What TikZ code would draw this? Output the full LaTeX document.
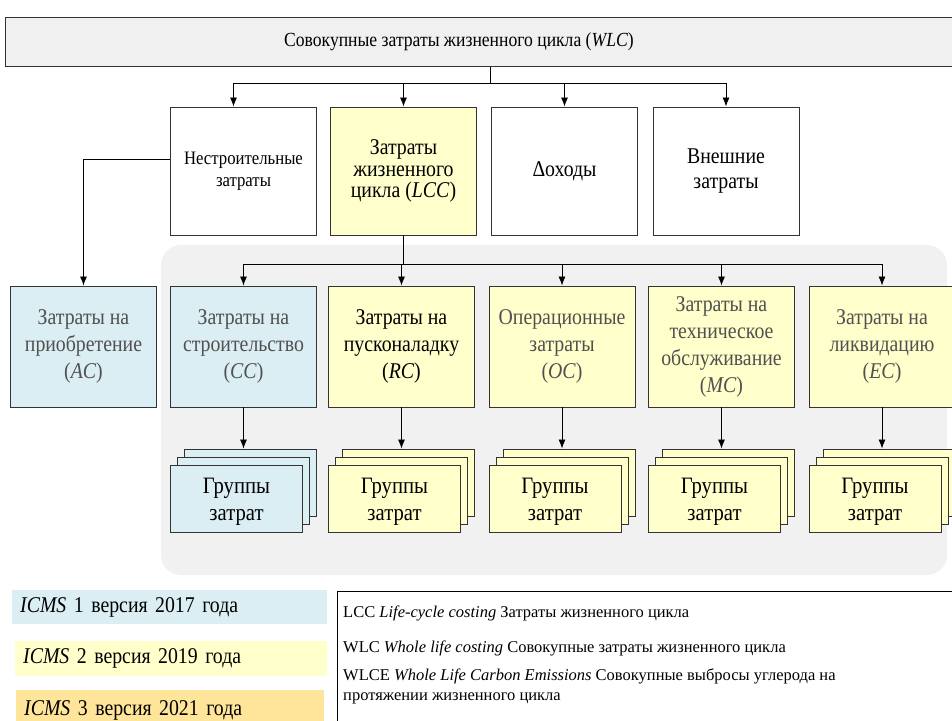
\documentclass[tikz,border=0pt]{standalone}
\usepackage{fontspec}
\setmainfont[FakeStretch=0.88]{Liberation Serif}
\newfontfamily\abbrfont{Liberation Serif}
\usetikzlibrary{arrows.meta}
\definecolor{wlcgray}{HTML}{F0F0F0}
\definecolor{panelgray}{HTML}{F1F1F1}
\definecolor{icmsone}{HTML}{DAEEF3}
\definecolor{icmstwo}{HTML}{FFFFCC}
\definecolor{icmsthree}{HTML}{FFE599}
\definecolor{txtgray}{HTML}{505050}
\definecolor{edge}{HTML}{333333}
\tikzset{
	costbox/.style={draw=edge, line width=0.9pt, minimum width=146pt, minimum height=121pt,
		align=center, inner sep=2pt, font=\fontsize{22.5}{27}\selectfont},
	groupcard/.style={draw=edge, line width=0.9pt, minimum width=132pt, minimum height=67pt},
	link/.style={-{Latex[length=9pt,width=7pt]}, line width=0.8pt},
	legendbar/.style={anchor=north west, inner xsep=8pt, align=left,
		font=\fontsize{22.5}{24}\selectfont},
	abbrtxt/.style={anchor=west, inner sep=0pt, align=left, font=\abbrfont\fontsize{16.5}{20}\selectfont}
}
\begin{document}
\begin{tikzpicture}[x=1pt,y=-1pt]
	\useasboundingbox (0,0) rectangle (952,720);
	\clip (0,0) rectangle (952,720);
	% gray panel behind LCC parts
	\fill[panelgray, rounded corners=20pt] (161,245) rectangle (947,575);
	% top level
	\node[draw=edge, line width=1.3pt, fill=wlcgray, anchor=north west, minimum width=960pt, minimum height=49pt] (wlc) at (5,17) {};
	\node[font=\fontsize{20}{22}\selectfont] (wlctxt) at (459,41.5) {Совокупные затраты жизненного цикла (\textit{WLC})};
	\coordinate (split) at (490,83);
	% first row
	\node[costbox, minimum height=128pt, font=\fontsize{19}{22}\selectfont] (nonb) at (243.5,171) {Нестроительные\\затраты};
	\node[costbox, minimum height=128pt, fill=icmstwo, font=\fontsize{22.5}{21.5}\selectfont] (lcc) at (403.5,171) {Затраты\\жизненного\\цикла (\textit{LCC})};
	\node[costbox, minimum height=128pt] (inc) at (564.5,171) {Δоходы};
	\node[costbox, minimum height=128pt, font=\fontsize{22.5}{25}\selectfont] (ext) at (726,171) {Внешние\\затраты};
	\draw[line width=0.8pt] (wlc.south -| split) -- (split);
	\draw[line width=0.8pt] ([xshift=-10pt]nonb.north |- split) -- (ext.north |- split);
	\draw[link] ([xshift=-10pt]nonb.north |- split) -- ([xshift=-10pt]nonb.north);
	\foreach \n in {lcc,inc,ext}
		\draw[link] (\n.north |- split) -- (\n.north);
	% second row
	\foreach \n/\x/\col/\tc/\txt in {
			ac/83.5/icmsone/txtgray/{Затраты на\\приобретение\\(\textit{AC})},
			cc/243.5/icmsone/txtgray/{Затраты на\\строительство\\(\textit{CC})},
			rc/401.5/icmstwo/black/{Затраты на\\пусконаладку\\(\textit{RC})},
			oc/562/icmstwo/txtgray/{Операционные\\затраты\\(\textit{OC})},
			mc/721.5/icmstwo/txtgray/{Затраты на\\техническое\\обслуживание\\(\textit{MC})},
			ec/882/icmstwo/txtgray/{Затраты на\\ликвидацию\\(\textit{EC})}}
		\node[costbox, fill=\col, text=\tc] (\n) at (\x,346.5) {\txt};
	\draw[link] ([yshift=12pt]nonb.west) -| (ac.north);
	\coordinate (lccsplit) at (402,264);
	\draw[line width=0.8pt] (lcc.south) -- (lcc.south |- lccsplit);
	\draw[line width=0.8pt] (cc.north |- lccsplit) -- (ec.north |- lccsplit);
	\foreach \n in {cc,rc,oc,mc,ec}
		\draw[link] (\n.north |- lccsplit) -- (\n.north);
	% cost groups
	\foreach \n/\x/\col in {cc/243.5/icmsone, rc/401.5/icmstwo, oc/562/icmstwo, mc/721.5/icmstwo, ec/882/icmstwo} {
		\node[groupcard, fill=\col] (\n g3) at ({\x+7},482.5) {};
		\node[groupcard, fill=\col] (\n g2) at (\x,490.5) {};
		\node[groupcard, fill=\col] (\n g1) at ({\x-7},498.5) {};
		\node[align=center, font=\fontsize{23.5}{27}\selectfont] (\n gt) at ({\x-7},501.5) {Группы\\затрат};
		\draw[link] (\n.south) -- (\n.south |- \n g3.north);
	}
	% legend
	\node[legendbar, fill=icmsone, minimum width=315pt, minimum height=34pt, text width=299pt] (ver1) at (12,590) {\textit{ICMS} 1 версия 2017 года};
	\node[legendbar, fill=icmstwo, minimum width=312pt, minimum height=35pt, text width=296pt] (ver2) at (15,641) {\textit{ICMS} 2 версия 2019 года};
	\node[legendbar, fill=icmsthree, minimum width=308pt, minimum height=40pt, text width=292pt] (ver3) at (16,690) {\textit{ICMS} 3 версия 2021 года};
	\node[draw=black, line width=0.9pt, fill=white, anchor=north west, minimum width=625pt, minimum height=140pt] (abbr) at (337,591) {};
	\node[abbrtxt] (lccline) at (343,613) {LCC \textit{Life-cycle costing} Затраты жизненного цикла};
	\node[abbrtxt] (wlcline) at (343,648) {WLC \textit{Whole life costing} Совокупные затраты жизненного цикла};
	\node[abbrtxt] (wlceline) at (343,686) {WLCE \textit{Whole Life Carbon Emissions} Совокупные выбросы углерода на\\протяжении жизненного цикла};
\end{tikzpicture}
\end{document}
